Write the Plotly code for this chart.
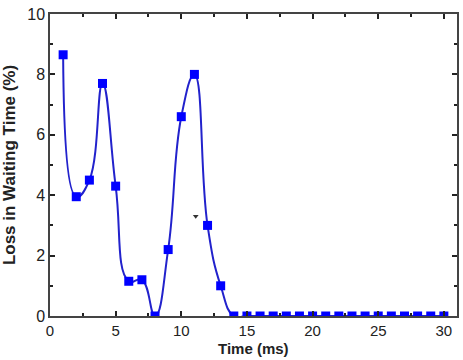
import plotly.graph_objects as go

time_ms = list(range(1, 31))
loss_pct = [8.65, 3.95, 4.5, 7.7, 4.3, 1.15, 1.2, 0.0, 2.2, 6.6, 8.0, 3.0, 1.0] + [0.0] * 17

arrow_x = [11.1]
arrow_y = [3.3]

FONT = "Liberation Sans, Arial"

fig = go.Figure()
fig.add_trace(go.Scatter(
    x=time_ms, y=loss_pct, mode="lines+markers",
    line=dict(color="#2222cc", width=2, shape="spline", smoothing=1.3),
    marker=dict(symbol="square", size=9, color="#0000ff"),
    cliponaxis=True, showlegend=False,
))
fig.add_trace(go.Scatter(
    x=arrow_x, y=arrow_y, mode="markers",
    marker=dict(symbol="triangle-down", size=5, color="#333333"),
    showlegend=False,
))

axis_common = dict(
    showline=True, linecolor="#444444", linewidth=1.5, mirror="ticks",
    ticks="inside", ticklen=5, tickcolor="#222222", tickwidth=1.5,
    showgrid=False, zeroline=False, automargin=False,
    tickfont=dict(family=FONT, size=16, color="#222222"),
)
fig.update_xaxes(
    range=[0, 31], tickvals=[0, 5, 10, 15, 20, 25, 30],
    minor=dict(ticks="inside", ticklen=3, tickcolor="#222222", dtick=2.5, tick0=0),
    **axis_common,
)
fig.update_xaxes(tickfont=dict(family=FONT, size=15, color="#222222"))
fig.update_yaxes(
    range=[0, 10], tickvals=[0, 2, 4, 6, 8, 10],
    minor=dict(ticks="inside", ticklen=3, tickcolor="#222222", dtick=1, tick0=0),
    title=dict(text="<b>Loss in Waiting Time (%)</b>", font=dict(family=FONT, size=17, color="#222222"), standoff=11),
    **axis_common,
)
fig.add_annotation(
    text="<b>Time (ms)</b>", xref="paper", yref="paper", x=0.5, y=-0.14,
    xanchor="center", yanchor="bottom", showarrow=False, borderpad=0,
    font=dict(family=FONT, size=15, color="#222222"),
)
fig.update_layout(
    width=463, height=360,
    margin=dict(l=50, r=6, t=14, b=44),
    plot_bgcolor="white", paper_bgcolor="white",
)
fig.write_html("out.html")
